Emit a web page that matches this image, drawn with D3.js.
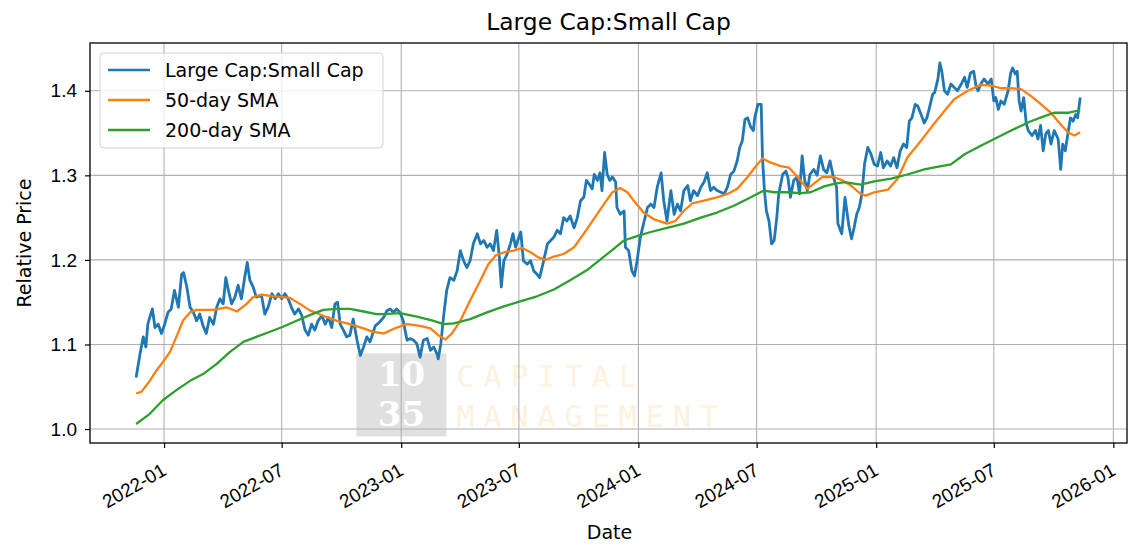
<!DOCTYPE html>
<html>
<head>
<meta charset="utf-8">
<script src="https://cdn.jsdelivr.net/npm/d3@7"></script>
<style>
  body { margin: 0; background: #fff; }
  svg { font-family: 'DejaVu Sans', sans-serif; }
  .grid line { stroke: #b0b0b0; stroke-width: 1.1; }
  .axis path, .axis line { stroke: #000; stroke-width: 1.2; }
  .axis text { fill: #000; font-size: 19px; }
</style>
</head>
<body>
<svg id="chart" width="1138" height="546"></svg>
<script>
// Large Cap : Small Cap ratio
const ratioData = [
  ['2021-11-19', 1.061], ['2021-11-25', 1.089], ['2021-11-30', 1.109], ['2021-12-04', 1.097],
  ['2021-12-07', 1.124], ['2021-12-10', 1.132], ['2021-12-14', 1.142], ['2021-12-18', 1.120],
  ['2021-12-23', 1.124], ['2021-12-28', 1.113], ['2022-01-02', 1.124], ['2022-01-07', 1.138],
  ['2022-01-12', 1.142], ['2022-01-17', 1.164], ['2022-01-23', 1.144], ['2022-01-28', 1.183],
  ['2022-01-31', 1.185], ['2022-02-05', 1.168], ['2022-02-10', 1.144], ['2022-02-15', 1.138],
  ['2022-02-20', 1.128], ['2022-02-25', 1.136], ['2022-03-02', 1.122], ['2022-03-07', 1.113],
  ['2022-03-12', 1.132], ['2022-03-18', 1.124], ['2022-03-23', 1.144], ['2022-03-28', 1.154],
  ['2022-04-02', 1.148], ['2022-04-06', 1.179], ['2022-04-10', 1.164], ['2022-04-15', 1.148],
  ['2022-04-20', 1.156], ['2022-04-25', 1.170], ['2022-04-30', 1.154], ['2022-05-05', 1.179],
  ['2022-05-09', 1.197], ['2022-05-13', 1.176], ['2022-05-18', 1.168], ['2022-05-23', 1.156],
  ['2022-05-31', 1.158], ['2022-06-05', 1.136], ['2022-06-10', 1.144], ['2022-06-16', 1.160],
  ['2022-06-21', 1.154], ['2022-06-26', 1.160], ['2022-07-01', 1.154], ['2022-07-06', 1.160],
  ['2022-07-11', 1.154], ['2022-07-16', 1.144], ['2022-07-21', 1.136], ['2022-07-27', 1.142],
  ['2022-08-01', 1.134], ['2022-08-06', 1.117], ['2022-08-11', 1.111], ['2022-08-16', 1.124],
  ['2022-08-21', 1.117], ['2022-08-26', 1.128], ['2022-09-01', 1.134], ['2022-09-06', 1.124],
  ['2022-09-11', 1.132], ['2022-09-16', 1.120], ['2022-09-21', 1.148], ['2022-09-25', 1.150],
  ['2022-09-29', 1.124], ['2022-10-04', 1.117], ['2022-10-09', 1.109], ['2022-10-14', 1.111],
  ['2022-10-19', 1.130], ['2022-10-25', 1.105], ['2022-10-30', 1.087], ['2022-11-04', 1.097],
  ['2022-11-09', 1.109], ['2022-11-14', 1.103], ['2022-11-22', 1.122], ['2022-11-28', 1.126],
  ['2022-12-05', 1.132], ['2022-12-10', 1.140], ['2022-12-15', 1.142], ['2022-12-20', 1.138],
  ['2022-12-25', 1.142], ['2022-12-30', 1.138], ['2023-01-04', 1.128], ['2023-01-10', 1.105],
  ['2023-01-15', 1.107], ['2023-01-20', 1.105], ['2023-01-25', 1.101], ['2023-01-30', 1.085],
  ['2023-02-04', 1.105], ['2023-02-10', 1.107], ['2023-02-15', 1.093], ['2023-02-20', 1.097],
  ['2023-02-25', 1.089], ['2023-02-27', 1.083], ['2023-03-03', 1.101], ['2023-03-07', 1.132],
  ['2023-03-12', 1.164], ['2023-03-17', 1.179], ['2023-03-23', 1.176], ['2023-03-28', 1.187],
  ['2023-04-02', 1.211], ['2023-04-07', 1.199], ['2023-04-12', 1.191], ['2023-04-17', 1.199],
  ['2023-04-22', 1.219], ['2023-04-28', 1.231], ['2023-05-03', 1.219], ['2023-05-08', 1.223],
  ['2023-05-13', 1.215], ['2023-05-18', 1.219], ['2023-05-23', 1.211], ['2023-05-28', 1.235],
  ['2023-06-01', 1.203], ['2023-06-04', 1.168], ['2023-06-08', 1.199], ['2023-06-13', 1.207],
  ['2023-06-18', 1.219], ['2023-06-22', 1.231], ['2023-06-26', 1.215], ['2023-07-01', 1.227],
  ['2023-07-04', 1.233], ['2023-07-08', 1.199], ['2023-07-14', 1.195], ['2023-07-19', 1.199],
  ['2023-07-24', 1.187], ['2023-07-29', 1.183], ['2023-08-02', 1.179], ['2023-08-07', 1.195],
  ['2023-08-14', 1.219], ['2023-08-19', 1.223], ['2023-08-24', 1.227], ['2023-08-29', 1.235],
  ['2023-09-03', 1.231], ['2023-09-08', 1.250], ['2023-09-13', 1.246], ['2023-09-18', 1.252],
  ['2023-09-24', 1.238], ['2023-09-29', 1.250], ['2023-10-04', 1.270], ['2023-10-09', 1.274],
  ['2023-10-13', 1.294], ['2023-10-17', 1.290], ['2023-10-22', 1.284], ['2023-10-25', 1.301],
  ['2023-10-30', 1.294], ['2023-11-03', 1.303], ['2023-11-06', 1.282], ['2023-11-10', 1.327],
  ['2023-11-14', 1.301], ['2023-11-18', 1.294], ['2023-11-22', 1.298], ['2023-11-27', 1.292],
  ['2023-11-29', 1.262], ['2023-12-04', 1.254], ['2023-12-10', 1.258], ['2023-12-12', 1.215],
  ['2023-12-17', 1.211], ['2023-12-22', 1.187], ['2023-12-26', 1.181], ['2023-12-30', 1.199],
  ['2024-01-04', 1.227], ['2024-01-09', 1.243], ['2024-01-15', 1.262], ['2024-01-20', 1.266],
  ['2024-01-25', 1.262], ['2024-01-30', 1.286], ['2024-02-05', 1.303], ['2024-02-09', 1.270],
  ['2024-02-14', 1.246], ['2024-02-20', 1.282], ['2024-02-25', 1.254], ['2024-03-01', 1.266],
  ['2024-03-06', 1.258], ['2024-03-11', 1.282], ['2024-03-17', 1.288], ['2024-03-21', 1.270],
  ['2024-03-26', 1.282], ['2024-04-01', 1.276], ['2024-04-06', 1.286], ['2024-04-11', 1.292],
  ['2024-04-16', 1.303], ['2024-04-21', 1.282], ['2024-04-26', 1.286], ['2024-05-01', 1.282],
  ['2024-05-07', 1.280], ['2024-05-12', 1.278], ['2024-05-17', 1.286], ['2024-05-22', 1.301],
  ['2024-05-27', 1.305], ['2024-06-01', 1.317], ['2024-06-05', 1.333], ['2024-06-09', 1.341],
  ['2024-06-13', 1.366], ['2024-06-17', 1.368], ['2024-06-22', 1.357], ['2024-06-26', 1.353],
  ['2024-06-28', 1.368], ['2024-07-03', 1.384], ['2024-07-08', 1.384], ['2024-07-10', 1.321],
  ['2024-07-13', 1.282], ['2024-07-16', 1.258], ['2024-07-20', 1.246], ['2024-07-24', 1.219],
  ['2024-07-28', 1.223], ['2024-08-01', 1.250], ['2024-08-04', 1.278], ['2024-08-10', 1.301],
  ['2024-08-15', 1.305], ['2024-08-18', 1.298], ['2024-08-22', 1.274], ['2024-08-27', 1.294],
  ['2024-09-01', 1.298], ['2024-09-05', 1.278], ['2024-09-09', 1.323], ['2024-09-13', 1.294],
  ['2024-09-17', 1.282], ['2024-09-21', 1.301], ['2024-09-27', 1.307], ['2024-10-02', 1.300],
  ['2024-10-07', 1.323], ['2024-10-12', 1.307], ['2024-10-17', 1.303], ['2024-10-22', 1.317],
  ['2024-10-27', 1.298], ['2024-11-01', 1.286], ['2024-11-03', 1.243], ['2024-11-09', 1.231],
  ['2024-11-14', 1.274], ['2024-11-20', 1.240], ['2024-11-24', 1.225], ['2024-11-28', 1.238],
  ['2024-12-02', 1.254], ['2024-12-06', 1.262], ['2024-12-10', 1.278], ['2024-12-14', 1.313],
  ['2024-12-19', 1.333], ['2024-12-24', 1.325], ['2024-12-29', 1.313], ['2025-01-03', 1.311],
  ['2025-01-08', 1.327], ['2025-01-12', 1.309], ['2025-01-18', 1.317], ['2025-01-23', 1.311],
  ['2025-01-28', 1.321], ['2025-02-02', 1.309], ['2025-02-07', 1.329], ['2025-02-12', 1.337],
  ['2025-02-17', 1.333], ['2025-02-21', 1.364], ['2025-02-25', 1.368], ['2025-03-02', 1.384],
  ['2025-03-06', 1.382], ['2025-03-11', 1.372], ['2025-03-16', 1.362], ['2025-03-20', 1.368],
  ['2025-03-24', 1.380], ['2025-03-29', 1.396], ['2025-04-01', 1.398], ['2025-04-06', 1.414],
  ['2025-04-09', 1.433], ['2025-04-12', 1.423], ['2025-04-16', 1.400], ['2025-04-21', 1.396],
  ['2025-04-26', 1.408], ['2025-05-01', 1.404], ['2025-05-06', 1.400], ['2025-05-12', 1.408],
  ['2025-05-17', 1.416], ['2025-05-21', 1.404], ['2025-05-26', 1.421], ['2025-05-31', 1.423],
  ['2025-06-04', 1.404], ['2025-06-07', 1.400], ['2025-06-11', 1.408], ['2025-06-16', 1.414],
  ['2025-06-22', 1.408], ['2025-06-27', 1.414], ['2025-07-01', 1.388], ['2025-07-04', 1.392],
  ['2025-07-08', 1.378], ['2025-07-12', 1.388], ['2025-07-17', 1.384], ['2025-07-23', 1.400],
  ['2025-07-27', 1.421], ['2025-07-30', 1.427], ['2025-08-03', 1.420], ['2025-08-06', 1.423],
  ['2025-08-09', 1.388], ['2025-08-12', 1.376], ['2025-08-16', 1.392], ['2025-08-20', 1.361],
  ['2025-08-23', 1.353], ['2025-08-29', 1.347], ['2025-09-03', 1.353], ['2025-09-07', 1.343],
  ['2025-09-11', 1.359], ['2025-09-15', 1.329], ['2025-09-19', 1.349], ['2025-09-23', 1.353],
  ['2025-09-27', 1.337], ['2025-10-02', 1.353], ['2025-10-08', 1.343], ['2025-10-12', 1.307],
  ['2025-10-15', 1.337], ['2025-10-19', 1.329], ['2025-10-23', 1.349], ['2025-10-27', 1.368],
  ['2025-10-31', 1.364], ['2025-11-04', 1.372], ['2025-11-07', 1.368], ['2025-11-11', 1.392]
]

const sma50Data = [
  ['2021-11-19', 1.042], ['2021-11-27', 1.044], ['2021-12-10', 1.057], ['2021-12-20', 1.069],
  ['2021-12-30', 1.079], ['2022-01-10', 1.091], ['2022-01-20', 1.109], ['2022-01-30', 1.128],
  ['2022-02-10', 1.138], ['2022-02-20', 1.141], ['2022-03-18', 1.141], ['2022-04-07', 1.144],
  ['2022-04-23', 1.139], ['2022-05-08', 1.148], ['2022-05-18', 1.156], ['2022-05-31', 1.159],
  ['2022-06-18', 1.157], ['2022-07-14', 1.155], ['2022-07-29', 1.148], ['2022-08-14', 1.140],
  ['2022-09-03', 1.134], ['2022-09-24', 1.128], ['2022-10-14', 1.124], ['2022-11-04', 1.119],
  ['2022-11-19', 1.115], ['2022-12-05', 1.113], ['2022-12-25', 1.120], ['2023-01-10', 1.124],
  ['2023-01-30', 1.122], ['2023-02-15', 1.119], ['2023-02-27', 1.111], ['2023-03-10', 1.106],
  ['2023-03-20', 1.113], ['2023-04-02', 1.128], ['2023-04-17', 1.152], ['2023-05-03', 1.176],
  ['2023-05-15', 1.195], ['2023-05-26', 1.205], ['2023-06-08', 1.209], ['2023-06-23', 1.211],
  ['2023-07-06', 1.214], ['2023-07-19', 1.209], ['2023-07-31', 1.203], ['2023-08-11', 1.200],
  ['2023-08-24', 1.204], ['2023-09-08', 1.207], ['2023-09-24', 1.215], ['2023-10-09', 1.231],
  ['2023-10-24', 1.248], ['2023-11-09', 1.266], ['2023-11-22', 1.280], ['2023-12-04', 1.285],
  ['2023-12-15', 1.280], ['2023-12-25', 1.270], ['2024-01-09', 1.256], ['2024-01-25', 1.248],
  ['2024-02-14', 1.243], ['2024-02-27', 1.246], ['2024-03-11', 1.258], ['2024-03-24', 1.267],
  ['2024-04-11', 1.270], ['2024-05-01', 1.274], ['2024-05-17', 1.278], ['2024-06-01', 1.284],
  ['2024-06-17', 1.298], ['2024-06-30', 1.311], ['2024-07-10', 1.320], ['2024-07-23', 1.315],
  ['2024-08-07', 1.311], ['2024-08-20', 1.309], ['2024-09-02', 1.298], ['2024-09-17', 1.284],
  ['2024-09-30', 1.292], ['2024-10-10', 1.298], ['2024-10-28', 1.298], ['2024-11-10', 1.294],
  ['2024-11-23', 1.288], ['2024-12-08', 1.278], ['2024-12-16', 1.276], ['2024-12-29', 1.280],
  ['2025-01-19', 1.283], ['2025-02-03', 1.296], ['2025-02-18', 1.321], ['2025-03-11', 1.341],
  ['2025-03-31', 1.361], ['2025-04-16', 1.376], ['2025-05-01', 1.390], ['2025-05-22', 1.400],
  ['2025-06-11', 1.407], ['2025-06-27', 1.406], ['2025-07-12', 1.403], ['2025-07-28', 1.403],
  ['2025-08-12', 1.402], ['2025-08-27', 1.394], ['2025-09-12', 1.384], ['2025-09-27', 1.374],
  ['2025-10-10', 1.362], ['2025-10-23', 1.351], ['2025-11-02', 1.347], ['2025-11-11', 1.351]
]

const sma200Data = [
  ['2021-11-19', 1.006], ['2021-12-10', 1.018], ['2021-12-30', 1.034], ['2022-01-20', 1.046],
  ['2022-02-10', 1.057], ['2022-03-02', 1.065], ['2022-03-23', 1.077], ['2022-04-12', 1.091],
  ['2022-05-03', 1.103], ['2022-05-23', 1.109], ['2022-06-13', 1.115], ['2022-07-03', 1.121],
  ['2022-07-24', 1.128], ['2022-08-14', 1.135], ['2022-09-03', 1.141], ['2022-09-24', 1.142],
  ['2022-10-14', 1.142], ['2022-11-04', 1.139], ['2022-11-24', 1.136], ['2022-12-05', 1.136],
  ['2022-12-30', 1.137], ['2023-01-25', 1.133], ['2023-02-20', 1.128], ['2023-03-07', 1.124],
  ['2023-03-23', 1.125], ['2023-04-17', 1.130], ['2023-05-13', 1.138], ['2023-06-08', 1.145],
  ['2023-07-03', 1.151], ['2023-07-29', 1.157], ['2023-08-24', 1.165], ['2023-09-18', 1.176],
  ['2023-10-14', 1.188], ['2023-11-09', 1.204], ['2023-11-24', 1.213], ['2023-12-10', 1.223],
  ['2023-12-25', 1.227], ['2024-01-20', 1.233], ['2024-02-14', 1.238], ['2024-03-11', 1.243],
  ['2024-04-06', 1.250], ['2024-05-01', 1.256], ['2024-05-27', 1.264], ['2024-06-22', 1.274],
  ['2024-07-12', 1.282], ['2024-07-28', 1.280], ['2024-08-17', 1.280], ['2024-09-07', 1.279],
  ['2024-09-22', 1.280], ['2024-10-13', 1.287], ['2024-10-28', 1.290], ['2024-11-13', 1.292],
  ['2024-12-08', 1.289], ['2024-12-29', 1.293], ['2025-01-24', 1.296], ['2025-02-18', 1.301],
  ['2025-03-16', 1.307], ['2025-04-11', 1.311], ['2025-04-26', 1.313], ['2025-05-17', 1.325],
  ['2025-06-11', 1.335], ['2025-07-07', 1.345], ['2025-08-02', 1.355], ['2025-08-27', 1.364],
  ['2025-09-17', 1.370], ['2025-10-02', 1.374], ['2025-10-23', 1.374], ['2025-11-11', 1.377]
]

const yTicks = [1.0, 1.1, 1.2, 1.3, 1.4]
const xTicks = ['2022-01-01', '2022-07-01', '2023-01-01', '2023-07-01', '2024-01-01',
  '2024-07-01', '2025-01-01', '2025-07-01', '2026-01-01']

const seriesList = [
  { name: 'Large Cap:Small Cap', data: ratioData, color: '#1f77b4', width: 2.8 },
  { name: '50-day SMA', data: sma50Data, color: '#ff7f0e', width: 2.3 },
  { name: '200-day SMA', data: sma200Data, color: '#2ca02c', width: 2.3 }
]

const parse = d3.timeParse('%Y-%m-%d')
const margin = { top: 43, left: 90, bottom: 103, right: 11 }

const svg = d3.select('#chart')
const width = +svg.attr('width') - margin.left - margin.right
const height = +svg.attr('height') - margin.top - margin.bottom

const xScale = d3.scaleTime().range([0, width]).domain([parse('2021-09-09'), parse('2026-01-22')])
const yScale = d3.scaleLinear().range([height, 0]).domain([0.9835, 1.4565])

const g = svg.append('g').attr('transform', `translate(${margin.left},${margin.top})`)

// watermark (under the grid)
const wm = g.append('g').attr('transform', `translate(${xScale(parse('2022-10-24'))},${yScale(1.0895)})`)
wm.append('rect').attr('width', 90).attr('height', 83).attr('fill', '#dadada').attr('opacity', 0.85)
wm.append('text').attr('x', 45).attr('y', 33).text('10')
wm.append('text').attr('x', 45).attr('y', 73).text('35')
wm.selectAll('text').attr('text-anchor', 'middle').attr('fill', '#fff')
  .style('font-family', "'DejaVu Serif', serif").style('font-weight', 'bold').style('font-size', '34px')
wm.append('text').attr('x', 100).attr('y', 34).text('CAPITAL')
wm.append('text').attr('x', 100).attr('y', 74).text('MANAGEMENT')
wm.selectAll('text:nth-of-type(n+3)').attr('fill', '#fcf2dd')
  .style('font-family', "'DejaVu Sans Mono', monospace").style('font-size', '30px').style('letter-spacing', '9px')

// grid
const grid = g.append('g').classed('grid', true)
grid.selectAll('.gx').data(xTicks).join('line')
  .attr('x1', d => xScale(parse(d))).attr('x2', d => xScale(parse(d)))
  .attr('y1', 0).attr('y2', height)
grid.selectAll('.gy').data(yTicks).join('line')
  .attr('y1', d => yScale(d)).attr('y2', d => yScale(d))
  .attr('x1', 0).attr('x2', width)

// lines
const line = d3.line()
  .x(d => xScale(parse(d[0])))
  .y(d => yScale(d[1]))

g.selectAll('.series').data(seriesList).join('path')
  .attr('fill', 'none')
  .attr('stroke', d => d.color)
  .attr('stroke-width', d => d.width)
  .attr('stroke-linejoin', 'round')
  .attr('d', d => line(d.data))

// axes
const xAxis = d3.axisBottom(xScale)
  .tickValues(xTicks.map(parse))
  .tickFormat(d3.timeFormat('%Y-%m'))
  .tickSizeOuter(0).tickSize(5).tickPadding(4)
const yAxis = d3.axisLeft(yScale)
  .tickValues(yTicks)
  .tickFormat(d3.format('.1f'))
  .tickSizeOuter(0).tickSize(5).tickPadding(8)

const xAxisEl = g.append('g').classed('axis', true).attr('transform', `translate(0,${height})`).call(xAxis)
xAxisEl.select('.domain').remove()
xAxisEl.selectAll('text')
  .attr('text-anchor', 'end')
  .attr('dy', null)
  .attr('y', 0)
  .attr('transform', 'translate(3,31) rotate(-30)')

const yAxisEl = g.append('g').classed('axis', true).call(yAxis)
yAxisEl.select('.domain').remove()

// frame
g.append('rect').attr('width', width).attr('height', height)
  .attr('fill', 'none').attr('stroke', '#000').attr('stroke-width', 1.3)

// labels
svg.append('text').attr('x', margin.left + width / 2).attr('y', 30)
  .attr('text-anchor', 'middle').style('font-size', '23.4px').text('Large Cap:Small Cap')
svg.append('text').attr('x', margin.left + width / 2 + 1).attr('y', 539)
  .attr('text-anchor', 'middle').style('font-size', '19px').text('Date')
svg.append('text').attr('transform', `translate(31,${margin.top + height / 2}) rotate(-90)`)
  .attr('text-anchor', 'middle').style('font-size', '19px').text('Relative Price')

// legend
const legend = g.append('g').attr('transform', 'translate(10,10)')
legend.append('rect').attr('width', 283).attr('height', 95).attr('rx', 4)
  .attr('fill', '#fff').attr('fill-opacity', 0.8).attr('stroke', '#d0d0d0')
const item = legend.selectAll('.item').data(seriesList).join('g')
  .attr('transform', (d, i) => `translate(0,${17 + i * 30})`)
item.append('line').attr('x1', 8).attr('x2', 50)
  .attr('stroke', d => d.color).attr('stroke-width', 2.3)
item.append('text').attr('x', 65).attr('y', 7).style('font-size', '19px').text(d => d.name)
</script>
</body>
</html>
